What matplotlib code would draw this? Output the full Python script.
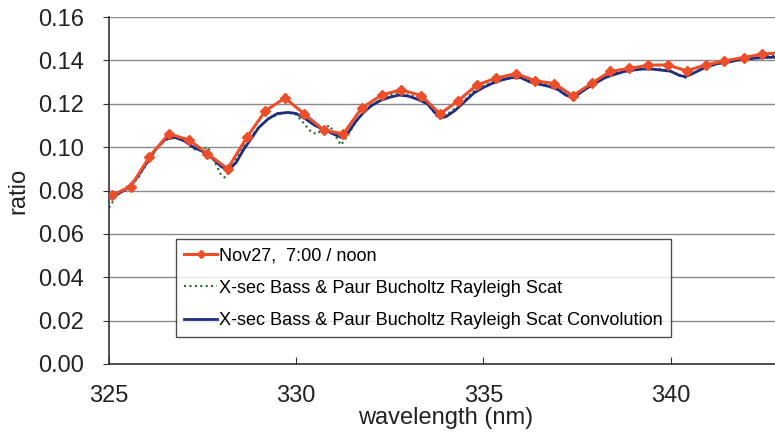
import numpy as np
import matplotlib.pyplot as plt

plt.rcParams['font.family'] = ['Liberation Sans', 'DejaVu Sans']

# measured ratio (red diamonds)
wl_meas = [325.07, 325.58, 326.08, 326.60, 327.14, 327.63, 328.17, 328.68, 329.18,
           329.70, 330.22, 330.73, 331.26, 331.75, 332.29, 332.80, 333.34, 333.84,
           334.33, 334.82, 335.34, 335.87, 336.38, 336.89, 337.39, 337.90, 338.39,
           338.90, 339.41, 339.92, 340.43, 340.94, 341.44, 341.95, 342.45, 342.95]
ratio_meas = [0.0777, 0.0818, 0.0956, 0.1061, 0.1033, 0.0969, 0.0900, 0.1045, 0.1168,
              0.1226, 0.1153, 0.1079, 0.1061, 0.1180, 0.1241, 0.1264, 0.1238, 0.1153,
              0.1214, 0.1286, 0.1318, 0.1339, 0.1306, 0.1293, 0.1237, 0.1295, 0.1349,
              0.1363, 0.1378, 0.1379, 0.1352, 0.1379, 0.1398, 0.1413, 0.1429, 0.1435]

# cross-section model (green dotted)
wl_xsec = [325.0, 325.25, 325.5, 325.75, 326.0, 326.25, 326.5, 326.75, 327.0, 327.25,
           327.5, 327.65, 327.8, 328.0, 328.1, 328.3, 328.5, 328.75, 329.0, 329.25,
           329.5, 329.75, 330.0, 330.25, 330.4, 330.55, 330.75, 330.9, 331.05, 331.2,
           331.4, 331.6, 331.8, 332.0, 332.25, 332.5, 332.75, 333.0, 333.25, 333.4,
           333.6, 333.8, 333.9, 334.1, 334.4, 334.75, 335.0, 335.25, 335.5, 335.75,
           336.0, 336.25, 336.5, 336.75, 337.0, 337.2, 337.35, 337.5, 337.75, 338.0,
           338.25, 338.5, 338.75, 339.0, 339.25, 339.5, 339.75, 340.0, 340.25, 340.4,
           340.6, 340.9, 341.25, 341.5, 341.75, 342.0, 342.25, 342.5, 342.8]
ratio_xsec = [0.072, 0.079, 0.082, 0.085, 0.092, 0.099, 0.104, 0.105, 0.104, 0.099,
              0.099, 0.100, 0.094, 0.087, 0.086, 0.091, 0.098, 0.104, 0.109, 0.113,
              0.115, 0.116, 0.115, 0.110, 0.107, 0.106, 0.109, 0.110, 0.105, 0.101,
              0.106, 0.112, 0.116, 0.119, 0.122, 0.124, 0.125, 0.124, 0.123, 0.122,
              0.118, 0.113, 0.114, 0.116, 0.120, 0.126, 0.128, 0.130, 0.131, 0.132,
              0.132, 0.131, 0.129, 0.129, 0.127, 0.125, 0.123, 0.124, 0.127, 0.130,
              0.132, 0.134, 0.135, 0.136, 0.136, 0.136, 0.136, 0.135, 0.133, 0.132,
              0.134, 0.137, 0.139, 0.140, 0.140, 0.141, 0.141, 0.142, 0.142]

# convolved model (blue)
wl_conv = [325.0, 325.25, 325.5, 325.75, 326.0, 326.25, 326.5, 326.75, 327.0, 327.25,
           327.5, 327.75, 328.0, 328.2, 328.4, 328.6, 328.8, 329.0, 329.25, 329.5,
           329.8, 330.0, 330.25, 330.5, 330.75, 331.0, 331.2, 331.4, 331.6, 331.8,
           332.0, 332.25, 332.5, 332.75, 333.0, 333.25, 333.5, 333.7, 333.85, 334.0,
           334.25, 334.5, 334.75, 335.0, 335.25, 335.5, 335.75, 336.0, 336.25, 336.5,
           336.75, 337.0, 337.2, 337.35, 337.5, 337.75, 338.0, 338.25, 338.5, 338.75,
           339.0, 339.25, 339.5, 339.75, 340.0, 340.25, 340.4, 340.6, 340.9, 341.25,
           341.5, 341.75, 342.0, 342.25, 342.5, 342.8]
ratio_conv = [0.0765, 0.0785, 0.081, 0.086, 0.0925, 0.099, 0.1035, 0.1045, 0.103, 0.100,
              0.098, 0.095, 0.091, 0.0895, 0.093, 0.099, 0.104, 0.109, 0.113, 0.1155,
              0.116, 0.1155, 0.113, 0.110, 0.108, 0.106, 0.1045, 0.107, 0.112, 0.116,
              0.119, 0.1215, 0.123, 0.124, 0.1235, 0.122, 0.120, 0.116, 0.1135, 0.114,
              0.117, 0.121, 0.125, 0.1275, 0.1295, 0.131, 0.132, 0.132, 0.130, 0.129,
              0.128, 0.1265, 0.124, 0.123, 0.124, 0.127, 0.1295, 0.132, 0.1335, 0.1348,
              0.1355, 0.136, 0.136, 0.1355, 0.135, 0.133, 0.1325, 0.134, 0.1365, 0.1385,
              0.139, 0.140, 0.1405, 0.141, 0.1413, 0.1415]

labels = ['Nov27,  7:00 / noon',
          'X-sec Bass & Paur Bucholtz Rayleigh Scat',
          'X-sec Bass & Paur Bucholtz Rayleigh Scat Convolution']

fig = plt.figure(figsize=(7.75, 4.37), dpi=100)
ax = fig.add_axes([109/775, 1-364/437, 1-109/775, (364-17)/437])

ax.plot(wl_meas, ratio_meas, color='#ec4e2a', lw=2.2, marker='D', ms=5.5, label=labels[0], zorder=3)
ax.plot(wl_xsec, ratio_xsec, color='#2e6b3a', lw=1.5, ls=(0, (1, 1.6)), label=labels[1], zorder=2)
ax.plot(wl_conv, ratio_conv, color='#1f2d80', lw=2.0, label=labels[2], zorder=2)

ax.set_xlim(325, 342.79)
ax.set_ylim(0, 0.16)
ax.set_xticks([325, 330, 335, 340])
ax.set_yticks(np.arange(0, 0.161, 0.02))
ax.yaxis.set_major_formatter(plt.FormatStrFormatter('%.2f'))
ax.grid(axis='y', color='#8a8a8a', lw=1)
ax.set_axisbelow(True)
for s in ['top', 'right']:
    ax.spines[s].set_visible(False)
for s in ['left', 'bottom']:
    ax.spines[s].set_color('#333333')
    ax.spines[s].set_linewidth(1.2)
ax.tick_params(axis='x', direction='in', length=5, pad=15, labelsize=17, colors='#333333', labelcolor='#222222')
ax.tick_params(axis='y', direction='out', length=4, pad=14, labelsize=17, colors='#333333', labelcolor='#222222')
ax.set_xlabel('wavelength (nm)', fontsize=17, color='#222222')
ax.xaxis.set_label_coords(0.506, -0.125)
ax.set_ylabel('ratio', fontsize=17, labelpad=6, color='#222222')

leg = ax.legend(loc='upper left', bbox_to_anchor=(176/775, 1-239/437), bbox_transform=fig.transFigure,
                fontsize=13.1, frameon=True, fancybox=False, handlelength=1.8, handletextpad=0.1,
                borderpad=0.45, labelspacing=0.85, borderaxespad=0, markerscale=0.8)
leg.get_frame().set_edgecolor('#222222')
leg.get_frame().set_linewidth(1.0)

fig.savefig('out.png', dpi=100)
